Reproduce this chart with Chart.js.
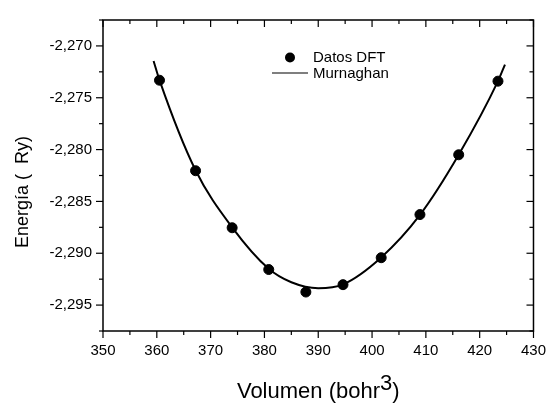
<!DOCTYPE html>
<html>
<head>
<meta charset="utf-8">
<script src="https://cdn.jsdelivr.net/npm/chart.js@4/dist/chart.umd.min.js"></script>
<style>
  body { margin: 0; background: #fff; }
  #wrap { width: 557px; height: 405px; }
</style>
</head>
<body>
<div id="wrap"><canvas id="grafica" width="557" height="405"></canvas></div>
<script>
/*
  Datos
*/
var volumen = [360.5, 367.2, 374.0, 380.8, 387.7, 394.6, 401.7, 408.9, 416.1, 423.4];
var energiaDFT = [-2.27331, -2.28204, -2.28754, -2.29157, -2.29374, -2.29303, -2.29043, -2.28627, -2.28050, -2.27340];

// curva Murnaghan (puntos leidos sobre la linea)
var volumenFit = [359.4, 360.5, 367.2, 374.0, 380.8, 385.0, 390.0, 394.6, 401.7, 408.9, 416.1, 423.4, 424.7];
var energiaFit = [-2.27145, -2.27330, -2.28200, -2.28750, -2.29150, -2.29280, -2.29337, -2.29300, -2.29040, -2.28630, -2.28050, -2.27340, -2.27180];

var xMin = 350, xMax = 430, xPaso = 5;
var yMin = -2.2975, yMax = -2.2675, yPaso = 0.0025;

var etiquetaX = 'Volumen (bohr';
var etiquetaY = 'Energía (  Ry)';
var leyenda = ['Datos DFT', 'Murnaghan'];

var negro = '#000';
var fuente = 'Liberation Sans, Arial, sans-serif';

var puntos = volumen.map((v, i) => ({x: v, y: energiaDFT[i]}));
var curva = volumenFit.map((v, i) => ({x: v, y: energiaFit[i]}));

var linea = (ctx, x1, y1, x2, y2) => {
  ctx.beginPath();
  ctx.moveTo(x1, y1);
  ctx.lineTo(x2, y2);
  ctx.stroke();
}

// marco, marcas, titulos y leyenda
var marco = {
  id: 'marco',
  afterDraw(chart) {
    var ctx = chart.ctx;
    var a = chart.chartArea;
    var x = chart.scales.x;
    var y = chart.scales.y;
    ctx.save();
    ctx.strokeStyle = negro;
    ctx.lineWidth = 1.5;
    ctx.strokeRect(a.left, a.top, a.right - a.left, a.bottom - a.top);

    ctx.lineWidth = 1.2;
    x.ticks.forEach(t => {
      var px = x.getPixelForValue(t.value);
      var len = Math.round(t.value) % 10 === 0 ? 7 : 4;
      linea(ctx, px, a.bottom, px, a.bottom + len);
      linea(ctx, px, a.top, px, a.top + len);
    });
    y.ticks.forEach(t => {
      var py = y.getPixelForValue(t.value);
      var len = Math.abs(Math.round(t.value * 10000)) % 50 === 0 ? 7 : 4;
      linea(ctx, a.left - len, py, a.left, py);
      linea(ctx, a.right - len, py, a.right, py);
    });

    // titulo eje y
    ctx.fillStyle = negro;
    ctx.save();
    ctx.translate(23, 192);
    ctx.rotate(-Math.PI / 2);
    ctx.font = '18px ' + fuente;
    ctx.textAlign = 'center';
    ctx.textBaseline = 'middle';
    ctx.fillText(etiquetaY, 0, 0);
    ctx.restore();

    // titulo eje x con superindice
    ctx.font = '22px ' + fuente;
    ctx.textBaseline = 'alphabetic';
    ctx.textAlign = 'left';
    var w1 = ctx.measureText(etiquetaX).width;
    var w2 = ctx.measureText('3').width;
    var w3 = ctx.measureText(')').width;
    var x0 = (a.left + a.right) / 2 - (w1 + w2 + w3) / 2;
    ctx.fillText(etiquetaX, x0, 398);
    ctx.fillText('3', x0 + w1, 390);
    ctx.fillText(')', x0 + w1 + w2, 398);

    // leyenda
    ctx.font = '15px ' + fuente;
    ctx.textBaseline = 'middle';
    ctx.beginPath();
    ctx.arc(290, 57.5, 5, 0, Math.PI * 2);
    ctx.fill();
    ctx.fillText(leyenda[0], 313, 58);
    ctx.lineWidth = 1.2;
    linea(ctx, 272, 73, 308, 73);
    ctx.fillText(leyenda[1], 313, 73.5);
    ctx.restore();
  }
}

var grafica = new Chart(document.getElementById('grafica'), {
  type: 'scatter',
  data: {
    datasets: [{
      label: leyenda[1],
      data: curva,
      showLine: true,
      borderColor: negro,
      borderWidth: 2,
      pointRadius: 0,
      cubicInterpolationMode: 'monotone',
    }, {
      label: leyenda[0],
      data: puntos,
      backgroundColor: negro,
      borderColor: negro,
      pointRadius: 5,
    }]
  },
  options: {
    responsive: false,
    animation: false,
    devicePixelRatio: 1,
    layout: {
      padding: {top: 7, right: 18, left: 0, bottom: 0}
    },
    plugins: {
      legend: { display: false },
      tooltip: { enabled: false },
    },
    scales: {
      x: {
        type: 'linear',
        min: xMin,
        max: xMax,
        afterFit(scale) { scale.height = 74; },
        grid: { display: false, drawTicks: false },
        border: { display: false },
        ticks: {
          stepSize: xPaso,
          autoSkip: false,
          maxRotation: 0,
          padding: 11,
          color: negro,
          font: { family: fuente, size: 15 },
          callback: v => Math.round(v) % 10 === 0 ? Math.round(v) : '',
        }
      },
      y: {
        min: yMin,
        max: yMax,
        afterFit(scale) { scale.width = 103; },
        grid: { display: false, drawTicks: false },
        border: { display: false },
        ticks: {
          stepSize: yPaso,
          autoSkip: false,
          padding: 11,
          color: negro,
          font: { family: fuente, size: 15 },
          callback: v => Math.abs(Math.round(v * 10000)) % 50 === 0 ? v.toFixed(3).replace('.', ',') : '',
        }
      }
    }
  },
  plugins: [marco]
})
</script>
</body>
</html>
